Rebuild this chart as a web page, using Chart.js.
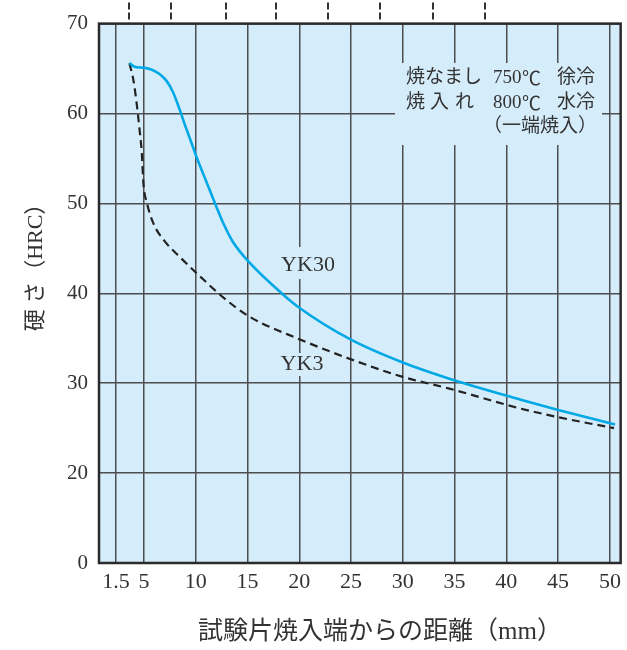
<!DOCTYPE html>
<html lang="ja">
<head>
<meta charset="utf-8">
<script src="https://cdn.jsdelivr.net/npm/chart.js@4.4.1/dist/chart.umd.min.js"></script>
<style>
  body { margin: 0; background: #fff; }
  #wrap { width: 627px; height: 650px; }
</style>
</head>
<body>
<div id="wrap"><canvas id="chart"></canvas></div>
<script>
// ===============================
// Data (distance as drawn on the scale, hardness HRC)
// ===============================
const yk30Dist = [3.6, 4.1, 4.9, 5.7, 6.5, 7.2, 7.8, 8.4, 9.0, 9.6, 10.1, 11.1, 11.9, 12.7, 13.6, 15.2, 18.4, 20.0, 24.9, 30.0, 34.5, 41.3, 45.1, 50.5];
const yk30Hrc = [65.6, 65.2, 65.1, 64.9, 64.4, 63.6, 62.4, 60.6, 58.6, 56.7, 55.1, 52.2, 49.9, 47.7, 45.7, 43.4, 39.9, 38.4, 34.9, 32.3, 30.5, 28.2, 27.0, 25.4];

const yk3Dist = [3.6, 4.0, 4.3, 4.55, 4.8, 4.95, 5.3, 5.9, 7.0, 8.5, 10.4, 12.8, 15.2, 20.0, 24.9, 30.0, 34.5, 41.3, 45.1, 50.4];
const yk3Hrc = [65.6, 63.6, 61.1, 58.5, 55.5, 52.2, 50.0, 47.8, 45.8, 44.0, 41.9, 39.4, 37.4, 34.9, 32.7, 30.7, 29.4, 27.2, 26.2, 25.0];

// the "1.5" line sits closer to 5 than a linear scale would put it
const xTickValues = [2.3, 5, 10, 15, 20, 25, 30, 35, 40, 45, 50];
const xTickLabels = ["1.5", "5", "10", "15", "20", "25", "30", "35", "40", "45", "50"];
// broken axis: bottom edge is labelled 0
const yTickValues = [10, 20, 30, 40, 50, 60, 70];
const yTickLabels = ["0", "20", "30", "40", "50", "60", "70"];
const topMarkValues = [3.6, 7.6, 12.9, 17.8, 22.8, 27.8, 32.9, 37.9];

// ===============================
// Styles
// ===============================
const BG = "#d5ecfa";
const INK = "#333";
const GRID = "#4d4d4d";
const BLUE = "#00a9e6";
const SERIF = '"Liberation Serif", "Noto Sans CJK JP", serif';
const CJK = '"Noto Sans CJK JP", sans-serif';

const toPoints = (xs, ys) => xs.map((x, i) => ({ x: x, y: ys[i] }));

// ===============================
// Decoration plugin
// ===============================
const paper = {
  id: "paper",
  beforeDraw(chart) {
    const { ctx, chartArea: a } = chart;
    ctx.save();
    ctx.fillStyle = BG;
    ctx.fillRect(a.left, a.top, a.right - a.left, a.bottom - a.top);
    ctx.restore();
  },
  beforeDatasetsDraw(chart) {
    // hide grid lines behind the texts
    const ctx = chart.ctx;
    ctx.save();
    ctx.fillStyle = BG;
    ctx.fillRect(395, 63, 207, 82);
    ctx.fillRect(278, 247, 60, 32);
    ctx.fillRect(278, 353, 49, 23);
    ctx.restore();
  },
  afterDraw(chart) {
    const { ctx, chartArea: a } = chart;
    const xs = chart.scales.x;
    ctx.save();

    // frame
    ctx.strokeStyle = "#2a2a2a";
    ctx.lineWidth = 2.5;
    ctx.strokeRect(a.left, a.top, a.right - a.left, a.bottom - a.top);

    // dashed marks above the frame
    ctx.lineWidth = 2;
    ctx.strokeStyle = INK;
    ctx.setLineDash([7, 3]);
    topMarkValues.forEach((v) => {
      const px = Math.round(xs.getPixelForValue(v));
      ctx.beginPath();
      ctx.moveTo(px, a.top - 4);
      ctx.lineTo(px, 0);
      ctx.stroke();
    });
    ctx.setLineDash([]);

    ctx.fillStyle = INK;
    ctx.textBaseline = "middle";

    // series labels
    ctx.font = "22px " + SERIF;
    ctx.textAlign = "center";
    ctx.fillText("YK30", 308, 265);
    ctx.fillText("YK3", 302, 364);

    // heat treatment note
    ctx.font = "19px " + SERIF;
    ctx.textAlign = "left";
    ctx.fillText("焼なまし", 406, 78);
    ctx.fillText("750", 493, 78);
    ctx.fillText("徐冷", 557, 78);
    ctx.fillText("焼", 406, 103);
    ctx.fillText("入", 430, 103);
    ctx.fillText("れ", 455, 103);
    ctx.fillText("800", 493, 103);
    ctx.fillText("水冷", 557, 103);
    ctx.textAlign = "center";
    ctx.fillText("（一端焼入）", 540, 127);
    ctx.font = "19px " + CJK;
    ctx.textAlign = "left";
    ctx.fillText("℃", 522, 78);
    ctx.fillText("℃", 522, 103);

    // axis titles
    ctx.font = "25px " + SERIF;
    ctx.fillText("試験片焼入端からの距離（mm）", 198, 632);

    ctx.font = "22px " + SERIF;
    ctx.translate(36, 262);
    ctx.rotate(-Math.PI / 2);
    ctx.textAlign = "center";
    ctx.fillText("硬 さ（HRC）", 0, 0);

    ctx.restore();
  },
};

// ===============================
// Chart
// ===============================
new Chart(document.getElementById("chart"), {
  type: "line",
  data: {
    datasets: [
      {
        label: "YK30",
        data: toPoints(yk30Dist, yk30Hrc),
        borderColor: BLUE,
        borderWidth: 2.6,
        pointRadius: 0,
        cubicInterpolationMode: "monotone",
        fill: false,
      },
      {
        label: "YK3",
        data: toPoints(yk3Dist, yk3Hrc),
        borderColor: "#222",
        borderWidth: 2.2,
        borderDash: [8, 5],
        pointRadius: 0,
        cubicInterpolationMode: "monotone",
        fill: false,
      },
    ],
  },
  options: {
    responsive: true,
    maintainAspectRatio: false,
    animation: false,
    layout: { padding: { top: 19, right: 5.5, left: 0, bottom: 0 } },
    plugins: {
      legend: { display: false },
      tooltip: { enabled: false },
    },
    scales: {
      x: {
        type: "linear",
        min: 0.66,
        max: 51.04,
        afterBuildTicks: (s) => { s.ticks = xTickValues.map((v) => ({ value: v })); },
        afterFit: (s) => { s.height = 87; },
        ticks: {
          autoSkip: false,
          maxRotation: 0,
          padding: 6,
          color: INK,
          font: { family: SERIF, size: 22 },
          callback: (v, i) => xTickLabels[i],
        },
        grid: { color: GRID, lineWidth: 1.5, drawTicks: false },
        border: { display: false },
      },
      y: {
        min: 10,
        max: 70,
        afterBuildTicks: (s) => { s.ticks = yTickValues.map((v) => ({ value: v })); },
        afterFit: (s) => { s.width = 99; },
        ticks: {
          padding: 11,
          color: INK,
          font: { family: SERIF, size: 21 },
          callback: (v, i) => yTickLabels[i],
        },
        grid: { color: GRID, lineWidth: 1.5, drawTicks: false },
        border: { display: false },
      },
    },
  },
  plugins: [paper],
});
</script>
</body>
</html>
